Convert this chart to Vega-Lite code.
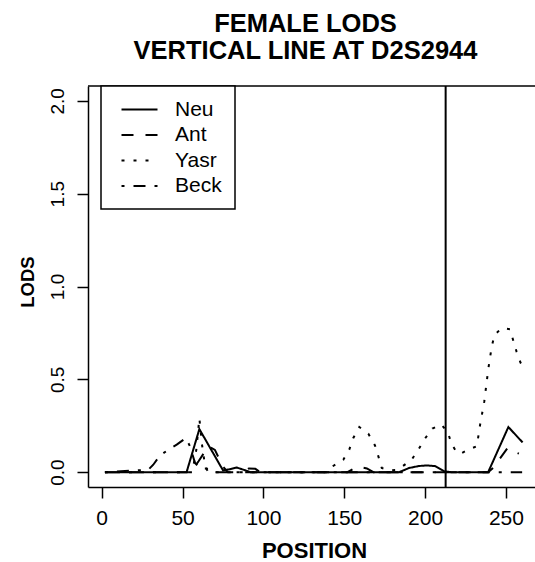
{
  "$schema": "https://vega.github.io/schema/vega-lite/v6.json",
  "width": 447,
  "height": 401,
  "autosize": "none",
  "padding": {"left": 88, "top": 86, "right": 0, "bottom": 75},
  "background": "white",
  "config": {
    "view": {"stroke": null},
    "font": "Liberation Sans",
    "legend": {"strokeWidth": 1.5}
  },
  "title": {
    "text": ["FEMALE LODS", "VERTICAL LINE AT D2S2944"],
    "font": "Liberation Sans",
    "fontSize": 25.5,
    "fontWeight": "bold",
    "color": "black",
    "lineHeight": 27,
    "anchor": "middle",
    "frame": "group",
    "baseline": "bottom",
    "offset": -4,
    "dx": -6
  },
  "data": {
    "values": [
      {"series": "Neu", "pos": 2, "lod": 0},
      {"series": "Neu", "pos": 52.5, "lod": 0},
      {"series": "Neu", "pos": 60.4, "lod": 0.232},
      {"series": "Neu", "pos": 75, "lod": 0.01},
      {"series": "Neu", "pos": 79, "lod": 0.015},
      {"series": "Neu", "pos": 83.5, "lod": 0.025},
      {"series": "Neu", "pos": 88, "lod": 0.012},
      {"series": "Neu", "pos": 92, "lod": 0},
      {"series": "Neu", "pos": 184, "lod": 0},
      {"series": "Neu", "pos": 190, "lod": 0.022},
      {"series": "Neu", "pos": 196, "lod": 0.033},
      {"series": "Neu", "pos": 201, "lod": 0.036},
      {"series": "Neu", "pos": 206, "lod": 0.033},
      {"series": "Neu", "pos": 212, "lod": 0.004},
      {"series": "Neu", "pos": 216, "lod": 0},
      {"series": "Neu", "pos": 239, "lod": 0},
      {"series": "Neu", "pos": 251.5, "lod": 0.243},
      {"series": "Neu", "pos": 260.3, "lod": 0.16},
      {"series": "Ant", "pos": 2, "lod": 0},
      {"series": "Ant", "pos": 55, "lod": 0},
      {"series": "Ant", "pos": 60, "lod": 0.06},
      {"series": "Ant", "pos": 66, "lod": 0.14},
      {"series": "Ant", "pos": 70, "lod": 0.12},
      {"series": "Ant", "pos": 75, "lod": 0.03},
      {"series": "Ant", "pos": 78, "lod": 0},
      {"series": "Ant", "pos": 152, "lod": 0},
      {"series": "Ant", "pos": 158, "lod": 0.03},
      {"series": "Ant", "pos": 164, "lod": 0.02},
      {"series": "Ant", "pos": 168, "lod": 0},
      {"series": "Ant", "pos": 239, "lod": 0},
      {"series": "Ant", "pos": 243, "lod": 0.03},
      {"series": "Ant", "pos": 246, "lod": 0.07},
      {"series": "Ant", "pos": 251, "lod": 0.13},
      {"series": "Ant", "pos": 255, "lod": 0.11},
      {"series": "Ant", "pos": 258, "lod": 0.1},
      {"series": "Yasr", "pos": 2, "lod": 0},
      {"series": "Yasr", "pos": 56, "lod": 0},
      {"series": "Yasr", "pos": 58.5, "lod": 0.12},
      {"series": "Yasr", "pos": 60.4, "lod": 0.29},
      {"series": "Yasr", "pos": 62, "lod": 0.15},
      {"series": "Yasr", "pos": 64, "lod": 0.03},
      {"series": "Yasr", "pos": 66, "lod": 0},
      {"series": "Yasr", "pos": 140, "lod": 0},
      {"series": "Yasr", "pos": 142.2, "lod": 0.028},
      {"series": "Yasr", "pos": 149.4, "lod": 0.067},
      {"series": "Yasr", "pos": 153.1, "lod": 0.121},
      {"series": "Yasr", "pos": 155.6, "lod": 0.184},
      {"series": "Yasr", "pos": 159.3, "lod": 0.243},
      {"series": "Yasr", "pos": 164.9, "lod": 0.207},
      {"series": "Yasr", "pos": 169, "lod": 0.144},
      {"series": "Yasr", "pos": 171.1, "lod": 0.085},
      {"series": "Yasr", "pos": 173.2, "lod": 0.022},
      {"series": "Yasr", "pos": 178, "lod": 0.01},
      {"series": "Yasr", "pos": 182, "lod": 0.012},
      {"series": "Yasr", "pos": 185.5, "lod": 0.028},
      {"series": "Yasr", "pos": 191.7, "lod": 0.067},
      {"series": "Yasr", "pos": 195.8, "lod": 0.121},
      {"series": "Yasr", "pos": 200, "lod": 0.182},
      {"series": "Yasr", "pos": 204.5, "lod": 0.235},
      {"series": "Yasr", "pos": 210, "lod": 0.257},
      {"series": "Yasr", "pos": 214, "lod": 0.215},
      {"series": "Yasr", "pos": 216.4, "lod": 0.152},
      {"series": "Yasr", "pos": 219.5, "lod": 0.107},
      {"series": "Yasr", "pos": 222, "lod": 0.1},
      {"series": "Yasr", "pos": 226.7, "lod": 0.121},
      {"series": "Yasr", "pos": 232, "lod": 0.14},
      {"series": "Yasr", "pos": 234, "lod": 0.255},
      {"series": "Yasr", "pos": 236.6, "lod": 0.381},
      {"series": "Yasr", "pos": 239.1, "lod": 0.557},
      {"series": "Yasr", "pos": 241.2, "lod": 0.677},
      {"series": "Yasr", "pos": 243, "lod": 0.74},
      {"series": "Yasr", "pos": 247.4, "lod": 0.776},
      {"series": "Yasr", "pos": 252.5, "lod": 0.77},
      {"series": "Yasr", "pos": 254.5, "lod": 0.709},
      {"series": "Yasr", "pos": 256.6, "lod": 0.648},
      {"series": "Yasr", "pos": 259, "lod": 0.59},
      {"series": "Yasr", "pos": 260, "lod": 0.58},
      {"series": "Beck", "pos": 2, "lod": 0},
      {"series": "Beck", "pos": 28.8, "lod": 0.013},
      {"series": "Beck", "pos": 31.9, "lod": 0.04},
      {"series": "Beck", "pos": 36, "lod": 0.089},
      {"series": "Beck", "pos": 41.2, "lod": 0.121},
      {"series": "Beck", "pos": 46.4, "lod": 0.148},
      {"series": "Beck", "pos": 52.1, "lod": 0.184},
      {"series": "Beck", "pos": 54.6, "lod": 0.139},
      {"series": "Beck", "pos": 57.7, "lod": 0.05},
      {"series": "Beck", "pos": 61, "lod": 0.02},
      {"series": "Beck", "pos": 65, "lod": 0.02},
      {"series": "Beck", "pos": 68, "lod": 0},
      {"series": "Beck", "pos": 86, "lod": 0},
      {"series": "Beck", "pos": 91, "lod": 0.02},
      {"series": "Beck", "pos": 95, "lod": 0.018},
      {"series": "Beck", "pos": 98, "lod": 0},
      {"series": "Beck", "pos": 260, "lod": 0}
    ]
  },
  "layer": [
    {
      "mark": {"type": "line", "color": "black", "strokeWidth": 2},
      "encoding": {
        "x": {
          "field": "pos",
          "type": "quantitative",
          "scale": {"domain": [-8.47, 267.96], "nice": false, "zero": false},
          "axis": {
            "values": [0, 50, 100, 150, 200, 250],
            "grid": false,
            "domainColor": "black",
            "domainWidth": 1.5,
            "tickColor": "black",
            "tickWidth": 1.5,
            "tickSize": 11,
            "labelFont": "Liberation Sans",
            "labelFontSize": 21,
            "labelColor": "black",
            "labelPadding": 9,
            "labelFlush": false,
            "labelOverlap": false,
            "title": "POSITION",
            "titleFont": "Liberation Sans",
            "titleFontSize": 22,
            "titleFontWeight": "bold",
            "titleColor": "black",
            "titleX": 226,
            "titleY": 70,
            "titleAlign": "center",
            "titleBaseline": "alphabetic"
          }
        },
        "y": {
          "field": "lod",
          "type": "quantitative",
          "scale": {"domain": [-0.08, 2.08], "nice": false, "zero": false},
          "axis": {
            "values": [0, 0.5, 1, 1.5, 2],
            "format": ".1f",
            "grid": false,
            "domainColor": "black",
            "domainWidth": 1.5,
            "tickColor": "black",
            "tickWidth": 1.5,
            "tickSize": 11,
            "labelFont": "Liberation Sans",
            "labelFontSize": 19,
            "labelColor": "black",
            "labelAngle": 270,
            "labelAlign": "center",
            "labelBaseline": "alphabetic",
            "labelPadding": 14,
            "labelFlush": false,
            "labelOverlap": false,
            "title": "LODS",
            "titleFont": "Liberation Sans",
            "titleFontSize": 18.5,
            "titleFontWeight": "bold",
            "titleColor": "black",
            "titleAngle": 270,
            "titleX": -55,
            "titleY": 195.5,
            "titleAlign": "center",
            "titleBaseline": "alphabetic"
          }
        },
        "strokeDash": {
          "field": "series",
          "type": "nominal",
          "scale": {
            "domain": ["Neu", "Ant", "Yasr", "Beck"],
            "range": [[1, 0], [12, 12], [3, 9], [3, 9, 12, 9]]
          },
          "legend": {
            "orient": "none",
            "legendX": 13,
            "legendY": 0,
            "title": null,
            "strokeColor": "black",
            "fillColor": "white",
            "padding": 13,
            "rowPadding": 3.5,
            "symbolType": "M-2,0H2",
            "symbolSize": 324,
            "symbolStrokeWidth": 2,
            "symbolStrokeColor": "black",
            "symbolFillColor": "transparent",
            "symbolOffset": 15,
            "labelOffset": 25,
            "labelFont": "Liberation Sans",
            "labelFontSize": 21,
            "labelColor": "black"
          }
        }
      }
    },
    {
      "data": {"values": [{"marker": "D2S2944", "pos": 212.7}]},
      "mark": {"type": "rule", "color": "black", "strokeWidth": 2},
      "encoding": {
        "x": {"field": "pos", "type": "quantitative", "scale": {"domain": [-8.47, 267.96], "nice": false, "zero": false}}
      }
    },
    {
      "data": {"values": [{}]},
      "mark": {"type": "rule", "color": "black", "strokeWidth": 1.5},
      "encoding": {
        "y": {"datum": 2.08, "type": "quantitative", "scale": {"domain": [-0.08, 2.08], "nice": false, "zero": false}}
      }
    }
  ]
}
